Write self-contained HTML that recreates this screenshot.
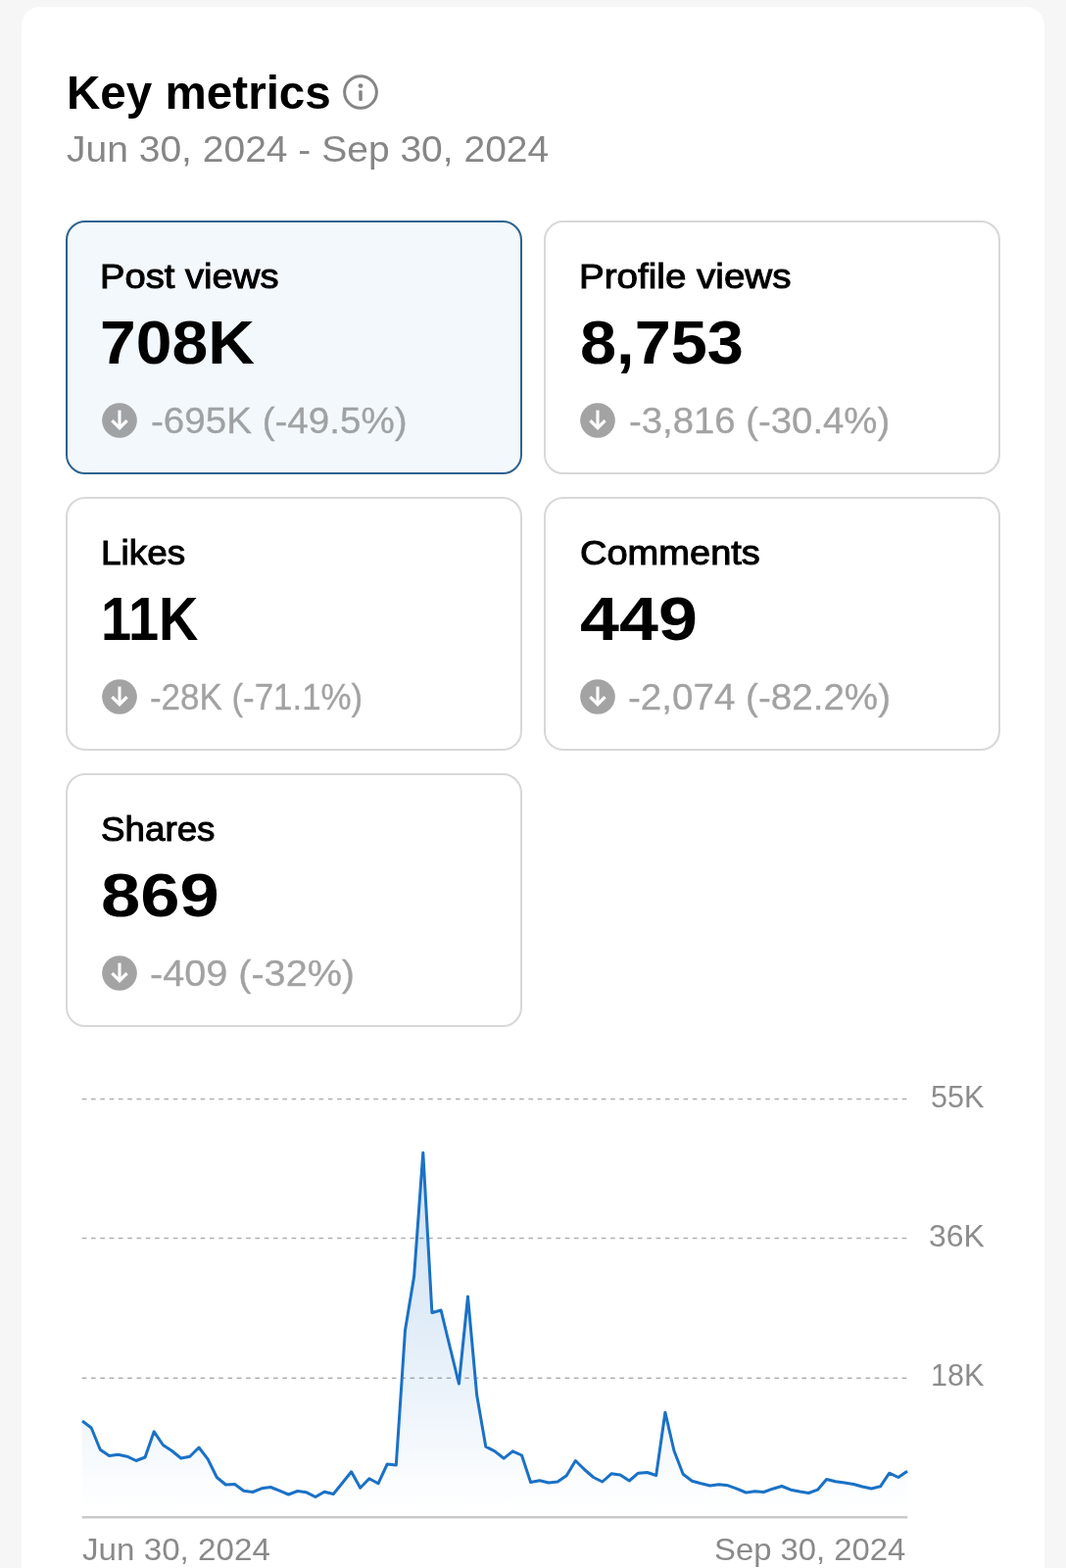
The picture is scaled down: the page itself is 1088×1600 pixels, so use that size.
<!DOCTYPE html>
<html lang="en">
<head>
<meta charset="utf-8">
<title>Key metrics</title>
<style>
  html, body { margin:0; padding:0; }
  body { width:1088px; height:1600px; overflow:hidden; background:#f6f6f6;
         font-family:"Liberation Sans", sans-serif; }
  .panel { position:absolute; left:22px; top:7px; width:1044px; height:1600px;
           background:#fff; border-radius:19px 19px 0 0; }
  .t { position:absolute; white-space:nowrap; line-height:1; transform-origin:0 0;
       margin:0; padding:0; display:block; font-weight:normal; }
  #title { font-weight:bold; color:#000; }
  #date { color:#868686; }
  .axis { color:#8a8a8a; }
  .ylab { color:#8c8c8c; }
  .lab { color:#000; }
  .val { color:#000; font-weight:bold; }
  .chg { color:#a2a2a2; }
  .card { position:absolute; box-sizing:border-box; width:466px; height:259px;
          border:2px solid #d8d8d8; border-radius:20px; background:#fff; }
  .card.sel { border-color:#2d628f; background:#f3f8fc; }
  .sel .chg { color:#9fa2a4; }
  .ico { position:absolute; display:block; }
  #info { position:absolute; left:328.30px; top:68.85px; display:block; }
  #chart { position:absolute; left:0; top:1083px; display:block; }
</style>
</head>
<body>
<main class="panel">
  <header>
    <h1 class="t" id="title" style="left:45.51px;top:62.96px;font-size:49px;transform:scaleX(0.9711)">Key metrics</h1>
    <svg id="info" width="36" height="36" viewBox="0 0 36 36" role="img" aria-label="info">
      <circle cx="18" cy="18" r="16.35" fill="none" stroke="#858585" stroke-width="3"/>
      <circle cx="18" cy="11.6" r="2.4" fill="#858585"/>
      <rect x="16.25" y="16.3" width="3.5" height="10.7" rx="1.3" fill="#858585"/>
    </svg>
    <p class="t" id="date" style="left:45.97px;top:127.03px;font-size:37px;transform:scaleX(1.0541)">Jun 30, 2024 - Sep 30, 2024</p>
  </header>
  <div class="cards">
    <section class="card sel" style="left:45px;top:218px">
      <div class="t lab" id="lab0" style="left:33.02px;top:36.94px;font-size:35px;transform:scaleX(1.0909);-webkit-text-stroke:1px currentColor">Post views</div>
      <div class="t val" id="val0" style="left:32.61px;top:90.94px;font-size:63px;transform:scaleX(1.0481)">708K</div>
      <svg class="ico" style="left:34.80px;top:183.60px" width="36" height="36" viewBox="0 0 36 36" aria-hidden="true"><circle cx="18" cy="18" r="17.85" fill="#a0a3a5"/><path d="M18 7.6V24" stroke="#fff" stroke-width="3.1" fill="none"/><path d="M10.4 18.1L18 25.7L25.6 18.1" stroke="#fff" stroke-width="3.3" fill="none" stroke-linejoin="miter"/></svg>
      <div class="t chg" id="chg0" style="left:85.04px;top:183.99px;font-size:37.5px;transform:scaleX(1.0287);-webkit-text-stroke:0.3px currentColor">-695K (-49.5%)</div>
    </section>
    <section class="card" style="left:533px;top:218px">
      <div class="t lab" id="lab1" style="left:34.01px;top:36.94px;font-size:35px;transform:scaleX(1.1021);-webkit-text-stroke:1px currentColor">Profile views</div>
      <div class="t val" id="val1" style="left:34.94px;top:90.94px;font-size:63px;transform:scaleX(1.0587)">8,753</div>
      <svg class="ico" style="left:34.80px;top:183.60px" width="36" height="36" viewBox="0 0 36 36" aria-hidden="true"><circle cx="18" cy="18" r="17.85" fill="#a3a3a3"/><path d="M18 7.6V24" stroke="#fff" stroke-width="3.1" fill="none"/><path d="M10.4 18.1L18 25.7L25.6 18.1" stroke="#fff" stroke-width="3.3" fill="none" stroke-linejoin="miter"/></svg>
      <div class="t chg" id="chg1" style="left:85.01px;top:183.99px;font-size:37.5px;transform:scaleX(1.0215);-webkit-text-stroke:0.3px currentColor">-3,816 (-30.4%)</div>
    </section>
    <section class="card" style="left:45px;top:500px">
      <div class="t lab" id="lab2" style="left:33.99px;top:36.94px;font-size:35px;transform:scaleX(1.0549);-webkit-text-stroke:1px currentColor">Likes</div>
      <div class="t val" id="val2" style="left:33.97px;top:90.94px;font-size:63px;transform:scaleX(0.8877)">11K</div>
      <svg class="ico" style="left:34.80px;top:183.60px" width="36" height="36" viewBox="0 0 36 36" aria-hidden="true"><circle cx="18" cy="18" r="17.85" fill="#a3a3a3"/><path d="M18 7.6V24" stroke="#fff" stroke-width="3.1" fill="none"/><path d="M10.4 18.1L18 25.7L25.6 18.1" stroke="#fff" stroke-width="3.3" fill="none" stroke-linejoin="miter"/></svg>
      <div class="t chg" id="chg2" style="left:84.05px;top:183.99px;font-size:37.5px;transform:scaleX(0.9307);-webkit-text-stroke:0.3px currentColor">-28K (-71.1%)</div>
    </section>
    <section class="card" style="left:533px;top:500px">
      <div class="t lab" id="lab3" style="left:35.02px;top:36.94px;font-size:35px;transform:scaleX(1.0866);-webkit-text-stroke:1px currentColor">Comments</div>
      <div class="t val" id="val3" style="left:34.95px;top:90.94px;font-size:63px;transform:scaleX(1.1400)">449</div>
      <svg class="ico" style="left:34.80px;top:183.60px" width="36" height="36" viewBox="0 0 36 36" aria-hidden="true"><circle cx="18" cy="18" r="17.85" fill="#a3a3a3"/><path d="M18 7.6V24" stroke="#fff" stroke-width="3.1" fill="none"/><path d="M10.4 18.1L18 25.7L25.6 18.1" stroke="#fff" stroke-width="3.3" fill="none" stroke-linejoin="miter"/></svg>
      <div class="t chg" id="chg3" style="left:84.02px;top:183.99px;font-size:37.5px;transform:scaleX(1.0286);-webkit-text-stroke:0.3px currentColor">-2,074 (-82.2%)</div>
    </section>
    <section class="card" style="left:45px;top:782px">
      <div class="t lab" id="lab4" style="left:34.02px;top:36.94px;font-size:35px;transform:scaleX(1.0502);-webkit-text-stroke:1px currentColor">Shares</div>
      <div class="t val" id="val4" style="left:33.99px;top:90.94px;font-size:63px;transform:scaleX(1.1489)">869</div>
      <svg class="ico" style="left:34.80px;top:183.60px" width="36" height="36" viewBox="0 0 36 36" aria-hidden="true"><circle cx="18" cy="18" r="17.85" fill="#a3a3a3"/><path d="M18 7.6V24" stroke="#fff" stroke-width="3.1" fill="none"/><path d="M10.4 18.1L18 25.7L25.6 18.1" stroke="#fff" stroke-width="3.3" fill="none" stroke-linejoin="miter"/></svg>
      <div class="t chg" id="chg4" style="left:84.04px;top:183.99px;font-size:37.5px;transform:scaleX(1.0558);-webkit-text-stroke:0.3px currentColor">-409 (-32%)</div>
    </section>
  </div>
  <svg id="chart" width="1044" height="510" viewBox="0 0 1044 510" role="img" aria-label="Post views chart">
    <defs>
      <linearGradient id="g" gradientUnits="userSpaceOnUse" x1="0" y1="86" x2="0" y2="458">
        <stop offset="0" stop-color="#1a73c8" stop-opacity="0.20"/>
        <stop offset="0.45" stop-color="#1a73c8" stop-opacity="0.135"/>
        <stop offset="0.75" stop-color="#1a73c8" stop-opacity="0.062"/>
        <stop offset="0.9" stop-color="#1a73c8" stop-opacity="0.018"/>
        <stop offset="1" stop-color="#1a73c8" stop-opacity="0"/>
      </linearGradient>
    </defs>
    <g stroke="#b0b0b0" stroke-width="1.5" stroke-dasharray="4.65 4.65" fill="none">
      <path d="M61.7 31.5H904"/>
      <path d="M61.7 173.6H904"/>
      <path d="M61.7 316.2H904"/>
    </g>
    <path d="M62.0 360.0L71.2 367.0L80.3 389.2L89.5 395.5L98.6 394.2L107.8 396.2L116.9 400.5L126.1 397.0L135.2 370.8L144.4 384.5L153.5 390.5L162.7 398.0L171.8 396.2L181.0 387.0L190.1 398.8L199.3 417.5L208.4 425.0L217.6 424.5L226.7 431.2L235.9 432.5L245.0 428.8L254.2 427.5L263.3 431.2L272.5 435.0L281.7 431.5L290.8 432.8L300.0 437.5L309.1 432.2L318.3 434.5L327.4 423.2L336.6 411.8L345.7 428.2L354.9 418.8L364.0 423.8L373.2 404.0L382.3 405.0L391.5 267.5L400.6 212.5L409.8 86.2L418.9 249.5L428.1 247.0L437.2 284.5L446.4 322.0L455.5 233.0L464.7 333.8L473.8 386.2L483.0 390.8L492.2 398.2L501.3 390.8L510.5 395.0L519.6 422.5L528.8 420.8L537.9 423.0L547.1 422.0L556.2 415.8L565.4 400.5L574.5 409.5L583.7 417.5L592.8 422.0L602.0 413.8L611.1 415.0L620.3 421.0L629.4 413.2L638.6 412.5L647.7 415.5L656.9 351.2L666.0 390.5L675.2 414.2L684.3 421.2L693.5 423.8L702.7 426.0L711.8 424.8L721.0 425.8L730.1 429.2L739.3 433.0L748.4 431.8L757.6 432.5L766.7 429.2L775.9 426.5L785.0 430.2L794.2 432.0L803.3 433.5L812.5 430.2L821.6 419.5L830.8 421.8L839.9 423.0L849.1 424.5L858.2 427.0L867.4 429.0L876.5 426.8L885.7 413.2L894.8 417.5L904.0 411.2L904.0 458.0L62.0 458.0Z" fill="url(#g)"/>
    <path d="M62.0 360.0L71.2 367.0L80.3 389.2L89.5 395.5L98.6 394.2L107.8 396.2L116.9 400.5L126.1 397.0L135.2 370.8L144.4 384.5L153.5 390.5L162.7 398.0L171.8 396.2L181.0 387.0L190.1 398.8L199.3 417.5L208.4 425.0L217.6 424.5L226.7 431.2L235.9 432.5L245.0 428.8L254.2 427.5L263.3 431.2L272.5 435.0L281.7 431.5L290.8 432.8L300.0 437.5L309.1 432.2L318.3 434.5L327.4 423.2L336.6 411.8L345.7 428.2L354.9 418.8L364.0 423.8L373.2 404.0L382.3 405.0L391.5 267.5L400.6 212.5L409.8 86.2L418.9 249.5L428.1 247.0L437.2 284.5L446.4 322.0L455.5 233.0L464.7 333.8L473.8 386.2L483.0 390.8L492.2 398.2L501.3 390.8L510.5 395.0L519.6 422.5L528.8 420.8L537.9 423.0L547.1 422.0L556.2 415.8L565.4 400.5L574.5 409.5L583.7 417.5L592.8 422.0L602.0 413.8L611.1 415.0L620.3 421.0L629.4 413.2L638.6 412.5L647.7 415.5L656.9 351.2L666.0 390.5L675.2 414.2L684.3 421.2L693.5 423.8L702.7 426.0L711.8 424.8L721.0 425.8L730.1 429.2L739.3 433.0L748.4 431.8L757.6 432.5L766.7 429.2L775.9 426.5L785.0 430.2L794.2 432.0L803.3 433.5L812.5 430.2L821.6 419.5L830.8 421.8L839.9 423.0L849.1 424.5L858.2 427.0L867.4 429.0L876.5 426.8L885.7 413.2L894.8 417.5L904.0 411.2" fill="none" stroke="#1a71c6" stroke-width="3" stroke-linejoin="round"/>
    <path d="M61.75 458.25H904.25" stroke="#c9c9c9" stroke-width="2.6" fill="none"/>
  </svg>
  <div class="labels">
    <span class="t ylab" id="y55" style="left:928.02px;top:1097.04px;font-size:31.5px;transform:scaleX(0.9685)">55K</span>
    <span class="t ylab" id="y36" style="left:925.53px;top:1239.04px;font-size:31.5px;transform:scaleX(1.0123)">36K</span>
    <span class="t ylab" id="y18" style="left:928.06px;top:1381.06px;font-size:31.5px;transform:scaleX(0.9686)">18K</span>
    <span class="t axis" id="x0" style="left:61.98px;top:1559.02px;font-size:31.5px;transform:scaleX(1.0531)">Jun 30, 2024</span>
    <span class="t axis" id="x1" style="left:707.05px;top:1559.02px;font-size:31.5px;transform:scaleX(1.0424)">Sep 30, 2024</span>
  </div>
</main>
</body>
</html>
